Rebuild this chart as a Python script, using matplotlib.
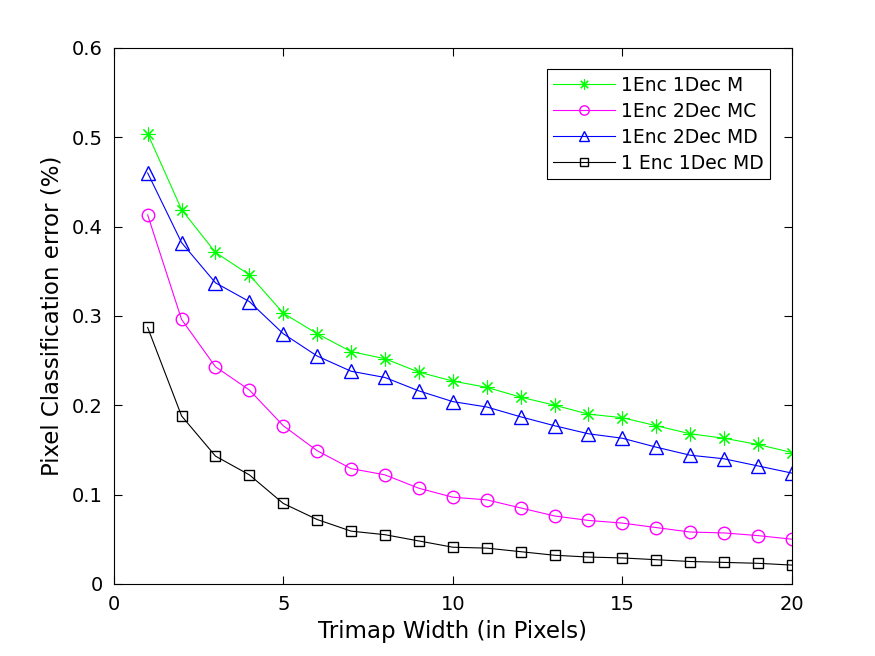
import matplotlib
matplotlib.use("Agg")
import matplotlib.pyplot as plt

# trimap widths
widths = list(range(1, 21))

err_1enc_1dec_m = [0.504, 0.419, 0.371, 0.346, 0.303, 0.280, 0.260, 0.252, 0.237, 0.227,
                   0.220, 0.209, 0.200, 0.190, 0.186, 0.177, 0.168, 0.163, 0.156, 0.147]
err_1enc_2dec_mc = [0.413, 0.296, 0.243, 0.217, 0.177, 0.149, 0.129, 0.122, 0.107, 0.097,
                    0.094, 0.085, 0.076, 0.071, 0.068, 0.063, 0.058, 0.057, 0.054, 0.050]
err_1enc_2dec_md = [0.460, 0.382, 0.337, 0.316, 0.280, 0.255, 0.238, 0.231, 0.216, 0.204,
                    0.198, 0.187, 0.177, 0.168, 0.163, 0.153, 0.144, 0.140, 0.132, 0.124]
err_1_enc_1dec_md = [0.287, 0.188, 0.143, 0.122, 0.090, 0.072, 0.059, 0.055, 0.048, 0.041,
                     0.040, 0.036, 0.032, 0.030, 0.029, 0.027, 0.025, 0.024, 0.023, 0.021]

labels = ["1Enc 1Dec M", "1Enc 2Dec MC", "1Enc 2Dec MD", "1 Enc 1Dec MD"]

fig = plt.figure(figsize=(8.75, 6.56), dpi=100)
ax = fig.add_axes([0.13, 0.11, 0.775, 0.817])

ax.plot(widths, err_1enc_1dec_m, color="#00ff00", marker=(8, 2, 0), ms=10, mew=0.8,
        lw=0.8, label=labels[0])
ax.plot(widths, err_1enc_2dec_mc, color="#ff00ff", marker="o", ms=9, mfc="none",
        lw=0.8, label=labels[1])
ax.plot(widths, err_1enc_2dec_md, color="#0000ff", marker="^", ms=10, mfc="none",
        lw=0.8, label=labels[2])
ax.plot(widths, err_1_enc_1dec_md, color="black", marker="s", ms=7.5, mfc="none",
        lw=0.8, label=labels[3])

ax.set_xlim(0, 20)
ax.set_ylim(0, 0.6)
ax.set_xticks([0, 5, 10, 15, 20])
ax.set_yticks([0, 0.1, 0.2, 0.3, 0.4, 0.5, 0.6])
ax.set_yticklabels(["0", "0.1", "0.2", "0.3", "0.4", "0.5", "0.6"])
ax.tick_params(direction="in", top=True, right=True, labelsize=14, length=6, width=0.8,
               pad=8)
for s in ax.spines.values():
    s.set_linewidth(0.8)

ax.set_xlabel("Trimap Width (in Pixels)", fontsize=16.5, labelpad=4)
ax.set_ylabel("Pixel Classification error (%)", fontsize=16.5, labelpad=6)

leg = ax.legend(loc="upper right", fontsize=13.5, fancybox=False, framealpha=1,
                edgecolor="black", bbox_to_anchor=(0.968, 0.96), borderaxespad=0,
                handlelength=3.3, handletextpad=0.3, labelspacing=0.37, borderpad=0.35,
                markerscale=0.75)
leg.get_frame().set_linewidth(0.8)

fig.savefig("out.png")
